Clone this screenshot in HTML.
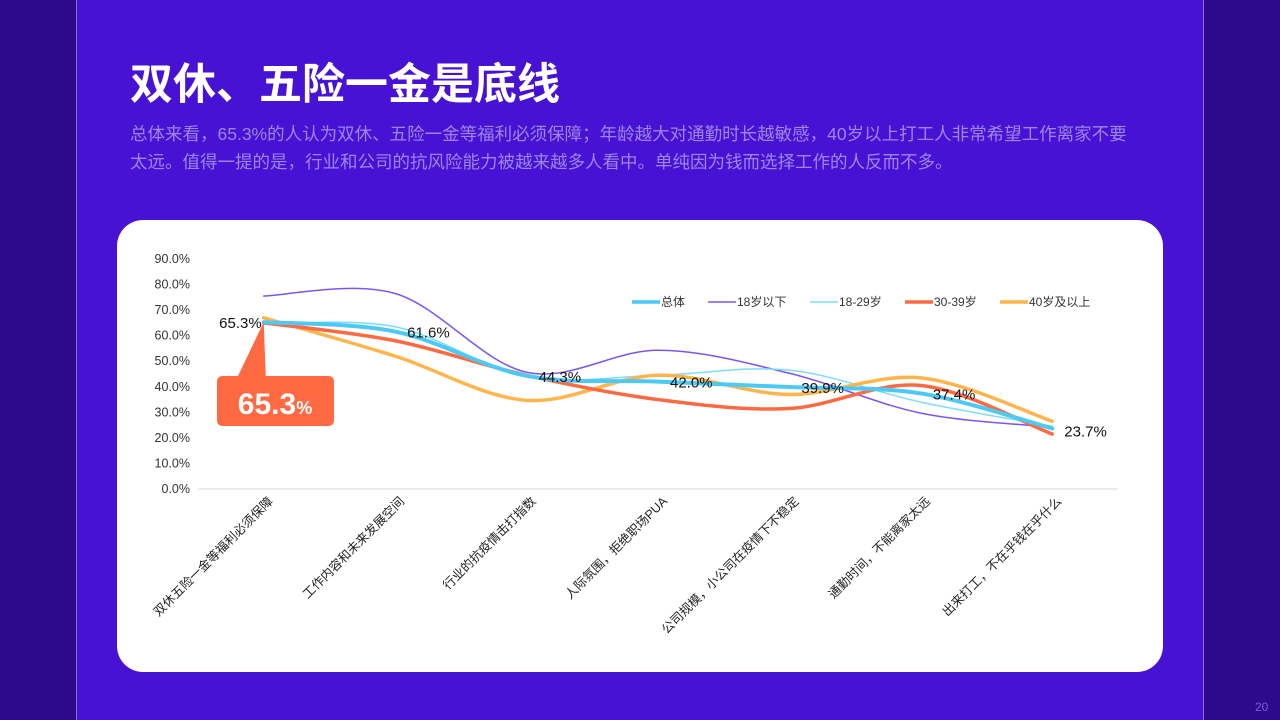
<!DOCTYPE html>
<html><head><meta charset="utf-8"><style>
body{margin:0;width:1280px;height:720px;overflow:hidden;background:#4712d4;font-family:"Liberation Sans","Noto Sans CJK SC",sans-serif;position:relative}
.side{position:absolute;top:0;height:720px;background:#2c0a8a}
</style></head><body>
<div class="side" style="left:0;width:76px;border-right:1px solid #8a6ee8"></div>
<div class="side" style="left:1203px;width:77px;border-left:1px solid #8a6ee8"></div>
<div style="position:absolute;left:130px;top:50px;color:#fff;font-size:43px;font-weight:bold;font-family:'Noto Sans CJK SC',sans-serif">双休、五险一金是底线</div>
<div style="position:absolute;left:130px;top:120px;width:1012px;color:#9d86e8;font-size:17.5px;line-height:28px">总体来看，65.3%的人认为双休、五险一金等福利必须保障；年龄越大对通勤时长越敏感，40岁以上打工人非常希望工作离家不要太远。值得一提的是，行业和公司的抗风险能力被越来越多人看中。单纯因为钱而选择工作的人反而不多。</div>
<div style="position:absolute;left:117px;top:220px;width:1046px;height:452px;background:#fff;border-radius:26px"></div>
<svg id="chart" width="1280" height="720" style="position:absolute;left:0;top:0"></svg>
<div style="position:absolute;left:1255px;top:700px;color:#7a5cd8;font-size:12px">20</div>
<script>
const categories=["双休五险一金等福利必须保障","工作内容和未来发展空间","行业的抗疫情击打指数","人际氛围，拒绝职场PUA","公司规模，小公司在疫情下不稳定","通勤时间，不能离家太远","出来打工，不在乎钱在乎什么"];
const seriesNames=["总体","18岁以下","18-29岁","30-39岁","40岁及以上"];
const total=[65.3,61.6,44.3,42.0,39.9,37.4,23.7];
const under18=[75.5,76.5,45.7,54.3,45.3,29.7,24.2];
const age18_29=[64.5,63.5,44.0,44.5,46.5,34.0,24.5];
const age30_39=[65.0,58.0,44.5,35.0,31.5,40.5,21.5];
const age40plus=[67.0,52.0,34.7,44.5,37.0,43.5,26.5];
const yTicks=[0,10,20,30,40,50,60,70,80,90];
const colors=["#4ccaf5","#7b55f0","#7fdcf8","#ff6a42","#ffb54c"];
const widths=[4,1.5,1.5,3.5,3.5];
const svg=document.getElementById('chart');const NS="http://www.w3.org/2000/svg";
const L=198,R=1118,T=259,B=489,step=(R-L)/categories.length;
const x=i=>L+step*(i+0.5);const y=v=>B-(v/90)*(B-T);
function mk(t,a,txt){const e=document.createElementNS(NS,t);for(const k in a)e.setAttribute(k,a[k]);if(txt!==undefined)e.textContent=txt;svg.appendChild(e);return e;}
let ax=mk('line',{x1:L,x2:R,y1:B,y2:B,stroke:'#d9d9d9','stroke-width':1});


yTicks.forEach(v=>{const t=mk('text',{x:190,y:y(v)+4,'text-anchor':'end','font-size':12.5,fill:'#333'},v.toFixed(1)+'%');

});
categories.forEach((c,i)=>{const t=mk('text',{transform:`translate(${x(i)+10},502) rotate(-45)`,'text-anchor':'end','font-size':12.5,fill:'#222'},c);

});
function path(vals){const p=vals.map((v,i)=>[x(i),y(v)]);let d=`M${p[0][0]},${p[0][1]}`;for(let i=0;i<p.length-1;i++){const p0=p[i-1]||p[i],p1=p[i],p2=p[i+1],p3=p[i+2]||p2;const k=6;d+=` C${p1[0]+(p2[0]-p0[0])/k},${p1[1]+(p2[1]-p0[1])/k} ${p2[0]-(p3[0]-p1[0])/k},${p2[1]-(p3[1]-p1[1])/k} ${p2[0]},${p2[1]}`;}return d;}
const all=[total,under18,age18_29,age30_39,age40plus];
[1,2,4,3,0].forEach(s=>{const e=mk('path',{d:path(all[s]),fill:'none',stroke:colors[s],'stroke-width':widths[s],'stroke-linecap':'round'});

});
total.forEach((v,i)=>{const t=mk('text',{x:i==0?x(i)-2:x(i)+12,y:y(v)+(i==6?8:6),'text-anchor':i==0?'end':'start','font-size':15,fill:'#111'},v.toFixed(1)+'%');

});
const lx=[632,708,810,905,1000];
seriesNames.forEach((n,i)=>{const l=mk('line',{x1:lx[i],x2:lx[i]+28,y1:302,y2:302,stroke:colors[i],'stroke-width':i==1||i==2?1.5:3.5});


const t=mk('text',{x:lx[i]+29,y:306,'font-size':12,fill:'#333'},n);

});
const cb=mk('path',{d:`M${x(0)},${y(total[0])} L${x(0)+2},376 L328,376 Q334,376 334,382 L334,420 Q334,426 328,426 L223,426 Q217,426 217,420 L217,382 Q217,376 223,376 L238,376 Z`,fill:'#ff6a42'});


const ct=mk('text',{x:275,y:414,'text-anchor':'middle',fill:'#fff','font-weight':'bold','font-size':30},'65.3');


const ts=document.createElementNS(NS,'tspan');ts.setAttribute('font-size',18);ts.textContent='%';ct.appendChild(ts);
</script>
</body></html>
